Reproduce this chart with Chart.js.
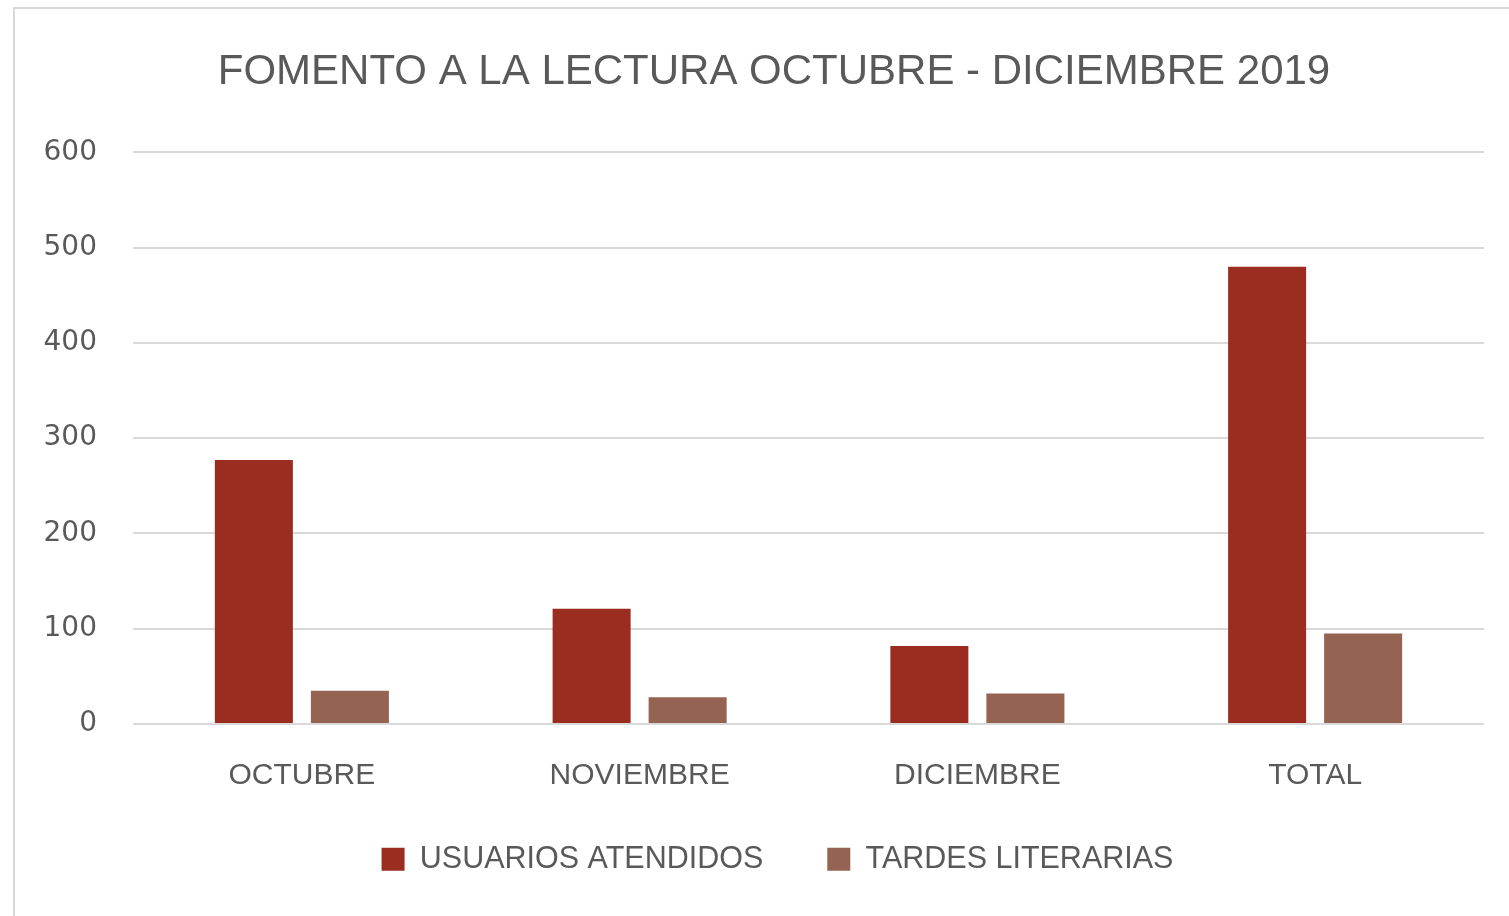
<!DOCTYPE html>
<html>
<head>
<meta charset="utf-8">
<script src="https://cdn.jsdelivr.net/npm/chart.js@4.4.1/dist/chart.umd.min.js"></script>
<style>
  html, body { margin: 0; padding: 0; background: #ffffff; }
  #wrap { position: relative; width: 1509px; height: 916px; overflow: hidden; }
  #frame { position: absolute; left: 13px; top: 7px; width: 1600px; height: 1000px;
           border-left: 2px solid #d9d9d9; border-top: 2px solid #d9d9d9; }
  canvas { position: absolute; left: 0; top: 0; }
</style>
</head>
<body>
<div id="wrap">
  <div id="frame"></div>
  <canvas id="c" width="1509" height="916"></canvas>
</div>
<script>
const titleText = "FOMENTO A LA LECTURA OCTUBRE - DICIEMBRE 2019";
const categories = ["OCTUBRE", "NOVIEMBRE", "DICIEMBRE", "TOTAL"];
const usuariosAtendidos = [277, 121, 82, 480];
const tardesLiterarias = [35, 28, 32, 95];
const seriesNames = ["USUARIOS ATENDIDOS", "TARDES LITERARIAS"];
const yTicks = [0, 100, 200, 300, 400, 500, 600];

const textColor = "#595959";

// fine positioning of the title and legend blocks after Chart.js layout
const blockShift = {
  id: "blockShift",
  afterLayout(chart) {
    chart.titleBlock.left = 64;
    chart.legend.left = 71;
    chart.legend.top -= 40;
  }
};

new Chart(document.getElementById("c"), {
  type: "bar",
  data: {
    labels: categories,
    datasets: [
      { label: seriesNames[0], data: usuariosAtendidos, backgroundColor: "#9a2d1f",
        categoryPercentage: 0.5686, barPercentage: 0.8125 },
      { label: seriesNames[1], data: tardesLiterarias, backgroundColor: "#956352",
        categoryPercentage: 0.5686, barPercentage: 0.8125 }
    ]
  },
  plugins: [blockShift],
  options: {
    responsive: false,
    animation: false,
    layout: { padding: { left: 30, right: 25, top: 0, bottom: 40 } },
    plugins: {
      title: {
        display: true, text: titleText, color: textColor,
        font: { family: "'Liberation Sans', Arial, sans-serif", size: 42, weight: "normal" },
        padding: { top: 47, bottom: 55 }
      },
      legend: {
        position: "bottom",
        maxHeight: 56,
        labels: {
          color: textColor, boxWidth: 23, boxHeight: 23, padding: 64,
          font: { family: "'Liberation Sans', Arial, sans-serif", size: 30.5 }
        }
      },
      tooltip: { enabled: false }
    },
    scales: {
      x: {
        grid: { display: false },
        border: { display: false },
        ticks: { color: textColor, padding: 26,
                 font: { family: "'Liberation Sans', Arial, sans-serif", size: 30 } }
      },
      y: {
        min: 0, max: 600,
        afterBuildTicks: (s) => { s.ticks = yTicks.map(v => ({ value: v })); },
        afterFit: (s) => { s.width = 103; },
        grid: { color: "#d9d9d9", lineWidth: 2, drawTicks: false },
        border: { display: false },
        ticks: { color: textColor, padding: 36,
                 font: { family: "'DejaVu Sans', sans-serif", size: 28 } }
      }
    }
  }
});
</script>
</body>
</html>
